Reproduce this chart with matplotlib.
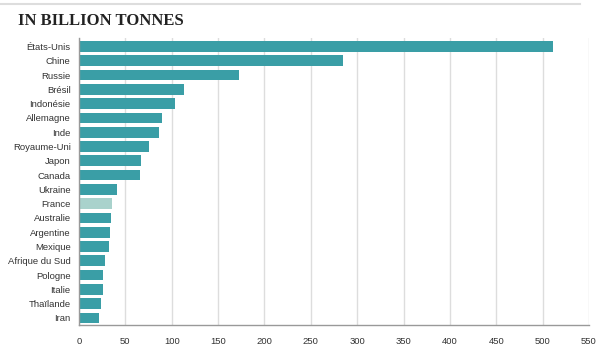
import matplotlib
matplotlib.use('Agg')
import matplotlib.pyplot as plt

countries = ['États-Unis', 'Chine', 'Russie', 'Brésil', 'Indonésie', 'Allemagne', 'Inde',
             'Royaume-Uni', 'Japon', 'Canada', 'Ukraine', 'France', 'Australie', 'Argentine',
             'Mexique', 'Afrique du Sud', 'Pologne', 'Italie', 'Thaïlande', 'Iran']
values = [511, 285, 173, 113, 103, 89, 86, 75, 67, 66, 41, 36, 35, 33, 32, 28.5, 26, 25.5, 24, 22]
highlight = 'France'
xticks = list(range(0, 551, 50))

teal = '#3a9ea6'
light = '#a9d2cc'
colors = [light if c == highlight else teal for c in countries]

fig = plt.figure(figsize=(5.98, 3.49), dpi=100)
ax = fig.add_axes([79 / 598, 1 - 325 / 349, 510 / 598, 287 / 349])

ypos = range(len(countries))
ax.barh(ypos, values, height=0.75, color=colors, zorder=2)
ax.set_ylim(len(countries) - 0.5, -0.6)
ax.set_xlim(0, 550)
ax.set_xticks(xticks)
ax.set_yticks(list(ypos))

lab_font = dict(family=['Liberation Sans', 'DejaVu Sans'], size=6.8, color='#333333')
ax.set_yticklabels(countries, **lab_font)
ax.set_xticklabels([str(v) for v in xticks], **lab_font)
ax.tick_params(length=0, pad=6)
ax.tick_params(axis='x', pad=9)

ax.grid(axis='x', color='#dddddd', linewidth=1, zorder=0)
for s in ['top', 'right']:
    ax.spines[s].set_visible(False)
for s in ['left', 'bottom']:
    ax.spines[s].set_color('#999999')
    ax.spines[s].set_linewidth(1)

fig.text(18 / 598, 1 - 21 / 349, 'IN BILLION TONNES', family=['Liberation Serif', 'DejaVu Serif'],
         weight='bold', size=12, color='#222222', va='center', ha='left')
fig.add_artist(plt.Line2D([0.0, 0.97], [1 - 4 / 349, 1 - 4 / 349], color='#dddddd', lw=1.5))

fig.savefig('out.png', dpi=100, facecolor='white')
